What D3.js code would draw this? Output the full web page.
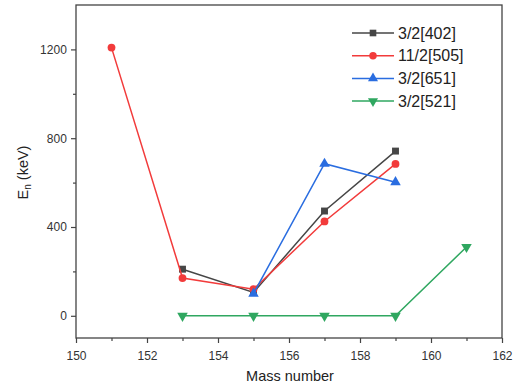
<!DOCTYPE html>
<html>
<head>
<meta charset="utf-8">
<script src="https://cdn.jsdelivr.net/npm/d3@7"></script>
<style>
  body { margin: 0; background: #fff; }
  text { font-family: "Liberation Sans", Arial, sans-serif; }
</style>
</head>
<body>
<div id="chart"></div>
<script>
// data
var seriesNames = ["3/2[402]", "11/2[505]", "3/2[651]", "3/2[521]"];
var mass402 = [153, 155, 157, 159];
var en402 = [210, 105, 472, 742];
var mass505 = [151, 153, 155, 157, 159];
var en505 = [1208, 170, 120, 425, 684];
var mass651 = [155, 157, 159];
var en651 = [100, 685, 602];
var mass521 = [153, 155, 157, 159, 161];
var en521 = [0, 0, 0, 0, 310];
var xTicks = [150, 152, 154, 156, 158, 160, 162];
var yTicks = [0, 400, 800, 1200];

var colors = ["#464646", "#f23b3b", "#2a6de0", "#2fa760"];
var shapes = [d3.symbolSquare, d3.symbolCircle, d3.symbolTriangle, "down"];

var W = 513, H = 387;
var m = {left: 76, right: 11, top: 5, bottom: 49};

var svg = d3.select("#chart").append("svg")
    .attr("width", W).attr("height", H);

var x = d3.scaleLinear().domain([150, 162]).range([m.left, W - m.right]);
var y = d3.scaleLinear().domain([-100, 1400]).range([H - m.bottom, m.top]);

function zip(xs, ys) {
    return xs.map(function(v, i) { return {x: v, y: ys[i]}; });
}
var series = [
    zip(mass402, en402),
    zip(mass505, en505),
    zip(mass651, en651),
    zip(mass521, en521)
];

// frame
svg.append("rect")
    .attr("x", x(150)).attr("y", y(1400))
    .attr("width", x(162) - x(150)).attr("height", y(-100) - y(1400))
    .attr("fill", "none").attr("stroke", "#444").attr("stroke-width", 1.3);

// axes
var xAxis = svg.append("g").attr("transform", "translate(0," + y(-100) + ")")
    .call(d3.axisBottom(x).tickValues(xTicks).tickSize(5).tickFormat(d3.format("d")));
svg.append("g").attr("transform", "translate(0," + y(-100) + ")")
    .call(d3.axisBottom(x).tickValues(d3.range(151, 162, 2)).tickSize(3).tickFormat(""));
var yAxis = svg.append("g").attr("transform", "translate(" + x(150) + ",0)")
    .call(d3.axisLeft(y).tickValues(yTicks).tickSize(5).tickFormat(d3.format("d")));
svg.append("g").attr("transform", "translate(" + x(150) + ",0)")
    .call(d3.axisLeft(y).tickValues([200, 600, 1000]).tickSize(3).tickFormat(""));

svg.selectAll(".domain").remove();
svg.selectAll(".tick line").attr("stroke", "#444").attr("stroke-width", 1.2);
xAxis.selectAll("text").attr("font-size", 12).attr("fill", "#333").attr("dy", "1.15em");
yAxis.selectAll("text").attr("font-size", 12).attr("fill", "#333").attr("dx", "-0.1em");

// axis titles
svg.append("text")
    .attr("x", (x(150) + x(162)) / 2 + 1).attr("y", 381)
    .attr("text-anchor", "middle").attr("font-size", 14.5).attr("fill", "#222")
    .text("Mass number");
var yl = svg.append("text")
    .attr("transform", "translate(28," + ((y(-100) + y(1400)) / 2 + 1) + ") rotate(-90)")
    .attr("text-anchor", "middle").attr("font-size", 14.5).attr("fill", "#222");
yl.append("tspan").attr("fill", "#222").text("E");
yl.append("tspan").attr("fill", "#222").attr("font-size", 10).attr("dy", 3).text("n");
yl.append("tspan").attr("fill", "#222").attr("dy", -3).text(" (keV)");

var line = d3.line()
    .x(function(d) { return x(d.x); })
    .y(function(d) { return y(d.y); });

function marker(sel, i, size) {
    if (shapes[i] === "down") {
        sel.attr("d", d3.symbol().type(d3.symbolTriangle).size(size)())
            .attr("transform", function(d) { return "translate(" + d.x + "," + d.y + ") rotate(180)"; });
    } else {
        sel.attr("d", d3.symbol().type(shapes[i]).size(size)())
            .attr("transform", function(d) { return "translate(" + d.x + "," + d.y + ")"; });
    }
}

series.forEach(function(s, i) {
    svg.append("path")
        .attr("d", line(s))
        .attr("fill", "none").attr("stroke", colors[i]).attr("stroke-width", 1.5);
    var pts = svg.selectAll(".pt" + i)
        .data(s.map(function(d) { return {x: x(d.x), y: y(d.y)}; }))
        .enter().append("path").attr("class", "pt" + i)
        .attr("fill", colors[i]);
    marker(pts, i, 48);
});

// legend
var lg = svg.append("g");
seriesNames.forEach(function(name, i) {
    var ly = 33 + i * 22.7;
    lg.append("line")
        .attr("x1", 352).attr("x2", 394).attr("y1", ly).attr("y2", ly)
        .attr("stroke", colors[i]).attr("stroke-width", 1.5);
    var mk = lg.append("path").datum({x: 373, y: ly}).attr("fill", colors[i]);
    marker(mk, i, 44);
    lg.append("text")
        .attr("x", 398).attr("y", ly).attr("dy", "0.36em")
        .attr("font-size", 16).attr("fill", "#222")
        .text(name);
});
</script>
</body>
</html>
